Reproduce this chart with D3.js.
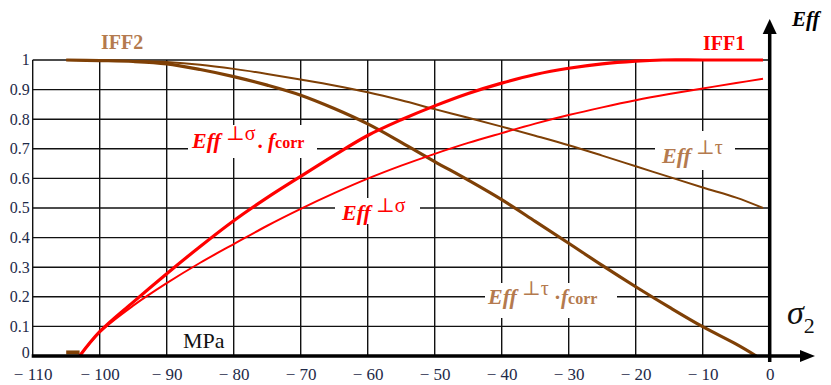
<!DOCTYPE html>
<html>
<head>
<meta charset="utf-8">
<script src="https://cdn.jsdelivr.net/npm/d3@7"></script>
<style>
  html, body { margin: 0; padding: 0; background: #fff; }
  svg { display: block; }
  svg text { font-family: "Liberation Serif", "Times New Roman", "DejaVu Serif", serif; }
</style>
</head>
<body>
<svg id="chart" width="831" height="385"></svg>
<script>
// ---- data ----
const xTicks = [-110, -100, -90, -80, -70, -60, -50, -40, -30, -20, -10, 0];
const yTicks = [0, 0.1, 0.2, 0.3, 0.4, 0.5, 0.6, 0.7, 0.8, 0.9, 1];

// IFF1: Eff⊥σ · fcorr (thick red)
const iff1CorrX = [-103, -100, -95, -90, -85, -80, -75, -70, -65, -60, -55, -50, -45, -40, -35, -30, -25, -20, -16, -10, -1];
const iff1CorrY = [0, 0.082, 0.182, 0.278, 0.37, 0.457, 0.535, 0.607, 0.678, 0.745, 0.798, 0.845, 0.887, 0.922, 0.951, 0.972, 0.987, 0.996, 1, 1, 1];

// IFF1: Eff⊥σ (thin red)
const iff1X = [-103, -100, -95, -90, -85, -80, -75, -70, -65, -60, -55, -50, -45, -40, -35, -30, -25, -20, -15, -10, -5, -1];
const iff1Y = [0, 0.08, 0.17, 0.246, 0.315, 0.378, 0.44, 0.497, 0.55, 0.599, 0.643, 0.683, 0.72, 0.753, 0.785, 0.814, 0.84, 0.864, 0.885, 0.904, 0.922, 0.937];

// IFF2: Eff⊥τ (thin brown)
const iff2X = [-105, -100, -95, -90, -85, -80, -75, -70, -65, -60, -55, -50, -45, -40, -35, -30, -25, -20, -15, -10, -5, -1];
const iff2Y = [1, 0.999, 0.997, 0.993, 0.984, 0.97, 0.953, 0.934, 0.914, 0.891, 0.864, 0.834, 0.805, 0.775, 0.744, 0.712, 0.677, 0.641, 0.605, 0.569, 0.535, 0.50];

// IFF2: Eff⊥τ · fcorr (thick brown)
const iff2CorrX = [-105, -100, -95, -90, -85, -80, -75, -70, -65, -60, -55, -50, -45, -40, -35, -30, -25, -20, -15, -10, -5, -2];
const iff2CorrY = [1, 0.998, 0.995, 0.987, 0.968, 0.944, 0.915, 0.881, 0.836, 0.784, 0.722, 0.657, 0.594, 0.528, 0.455, 0.381, 0.306, 0.234, 0.165, 0.099, 0.04, 0];

// short brown stub on the baseline
const stubX = [-105, -103];
const stubY = [0.012, 0.012];

// ---- drawing ----
const svg = d3.select("#chart");
const x = d3.scaleLinear().domain([-110, 0]).range([32.7, 769.7]);
const y = d3.scaleLinear().domain([0, 1]).range([356, 60]);

const RED = "#ff0000", BROWN = "#7f4006", TAN = "#b47a4e", NAVY = "#1e2a48";
const SERIF = "Liberation Serif, Times New Roman, DejaVu Serif, serif";

// grid
const grid = svg.append("g");
grid.selectAll("line.v").data(xTicks.filter(d => d < 0)).join("line")
  .attr("x1", d => x(d)).attr("x2", d => x(d))
  .attr("y1", y(0)).attr("y2", y(1))
  .attr("stroke", "#111").attr("stroke-width", 1.4);
grid.selectAll("line.h").data(yTicks.filter(d => d > 0)).join("line")
  .attr("x1", x(-110)).attr("x2", x(0))
  .attr("y1", d => y(d)).attr("y2", d => y(d))
  .attr("stroke", "#111").attr("stroke-width", 1.4);

// label boxes (white backgrounds interrupting the grid)
const boxes = [
  [188, 125, 129, 33],
  [335, 198, 85, 26],
  [655, 131, 80, 39],
  [485, 283, 132, 35]
];
svg.append("g").selectAll("rect").data(boxes).join("rect")
  .attr("x", d => d[0]).attr("y", d => d[1]).attr("width", d => d[2]).attr("height", d => d[3])
  .attr("fill", "#fff");

// curves
const line = d3.line().x(d => x(d[0])).y(d => y(d[1])).curve(d3.curveCatmullRom.alpha(0.5));
const zip = (a, b) => a.map((v, i) => [v, b[i]]);

svg.append("path").datum(zip(stubX, stubY)).attr("d", line)
  .attr("fill", "none").attr("stroke", BROWN).attr("stroke-width", 4);
svg.append("path").datum(zip(iff2X, iff2Y)).attr("d", line)
  .attr("fill", "none").attr("stroke", BROWN).attr("stroke-width", 2);
svg.append("path").datum(zip(iff2CorrX, iff2CorrY)).attr("d", line)
  .attr("fill", "none").attr("stroke", BROWN).attr("stroke-width", 3.2);
svg.append("path").datum(zip(iff1X, iff1Y)).attr("d", line)
  .attr("fill", "none").attr("stroke", RED).attr("stroke-width", 2);
svg.append("path").datum(zip(iff1CorrX, iff1CorrY)).attr("d", line)
  .attr("fill", "none").attr("stroke", RED).attr("stroke-width", 3.2);

// axes (thick) with arrows
svg.append("line").attr("x1", x(-110) - 1).attr("x2", 802).attr("y1", y(0)).attr("y2", y(0))
  .attr("stroke", "#000").attr("stroke-width", 3.5);
svg.append("path").attr("d", `M800,${y(0) - 6} L815,${y(0)} L800,${y(0) + 6} Z`).attr("fill", "#000");
svg.append("line").attr("x1", x(0)).attr("x2", x(0)).attr("y1", y(0) + 6).attr("y2", 32)
  .attr("stroke", "#000").attr("stroke-width", 3.5);
svg.append("path").attr("d", `M${x(0) - 7},34 L${x(0)},19 L${x(0) + 7},34 Z`).attr("fill", "#000");

// tick labels via axis generators
const fmtX = d => d === 0 ? "0" : "\u2212 " + Math.abs(d);
const xAxis = svg.append("g").attr("transform", `translate(0,${y(0) + 19})`)
  .call(d3.axisBottom(x).tickValues(xTicks).tickFormat(fmtX).tickSize(0).tickPadding(0));
xAxis.attr("font-family", null);
xAxis.select(".domain").remove();
xAxis.selectAll("text").style("font-family", SERIF).attr("font-size", 17).attr("fill", NAVY)
  .attr("dy", "0.3em");

const yAxis = svg.append("g").attr("transform", `translate(${x(-110) - 3},0)`)
  .call(d3.axisLeft(y).tickValues(yTicks).tickFormat(d => d === 0 || d === 1 ? String(d) : d.toFixed(1)).tickSize(0).tickPadding(0));
yAxis.attr("font-family", null);
yAxis.select(".domain").remove();
yAxis.selectAll("text").style("font-family", SERIF).attr("font-size", 16).attr("fill", NAVY)
  .attr("dy", d => d === 0 ? "0.1em" : "0.3em");

// text helpers
function txt(xp, yp, parts, color) {
  const t = svg.append("text").attr("x", xp).attr("y", yp).style("font-family", SERIF).attr("fill", color);
  parts.forEach(p => {
    const s = t.append("tspan").text(p.t).attr("font-size", p.s || 20);
    if (p.b) s.attr("font-weight", "bold");
    if (p.i) s.attr("font-style", "italic");
    if (p.dy) s.attr("dy", p.dy);
    if (p.dx) s.attr("dx", p.dx);
  });
  return t;
}

txt(101, 49, [{t: "IFF2", b: 1, s: 20}], TAN);
txt(703, 50, [{t: "IFF1", b: 1, s: 20}], RED);
txt(792, 26, [{t: "Eff", b: 1, i: 1, s: 21}], "#000");
txt(183, 348, [{t: "MPa", s: 22}], "#111");
txt(787, 324, [{t: "\u03c3", i: 1, s: 34}, {t: "2", s: 22, dy: 9}], "#111");

// curve labels
txt(192, 148, [{t: "Eff", b: 1, i: 1, s: 22}, {t: " \u22a5\u03c3", s: 20, dy: -8},
  {t: ".", b: 1, s: 21, dy: 8, dx: 2}, {t: " f", b: 1, i: 1, s: 21}, {t: "corr", b: 1, s: 16}], RED);
txt(342, 220, [{t: "Eff", b: 1, i: 1, s: 22}, {t: " \u22a5\u03c3", s: 20, dy: -8}], RED);
txt(662, 163, [{t: "Eff", b: 1, i: 1, s: 22}, {t: " \u22a5\u03c4", s: 20, dy: -9}], TAN);
txt(488, 304, [{t: "Eff", b: 1, i: 1, s: 22}, {t: " \u22a5\u03c4", s: 20, dy: -9},
  {t: " \u00b7", b: 1, s: 21, dy: 9}, {t: "f", b: 1, i: 1, s: 21}, {t: "corr", b: 1, s: 16}], TAN);
</script>
</body>
</html>
